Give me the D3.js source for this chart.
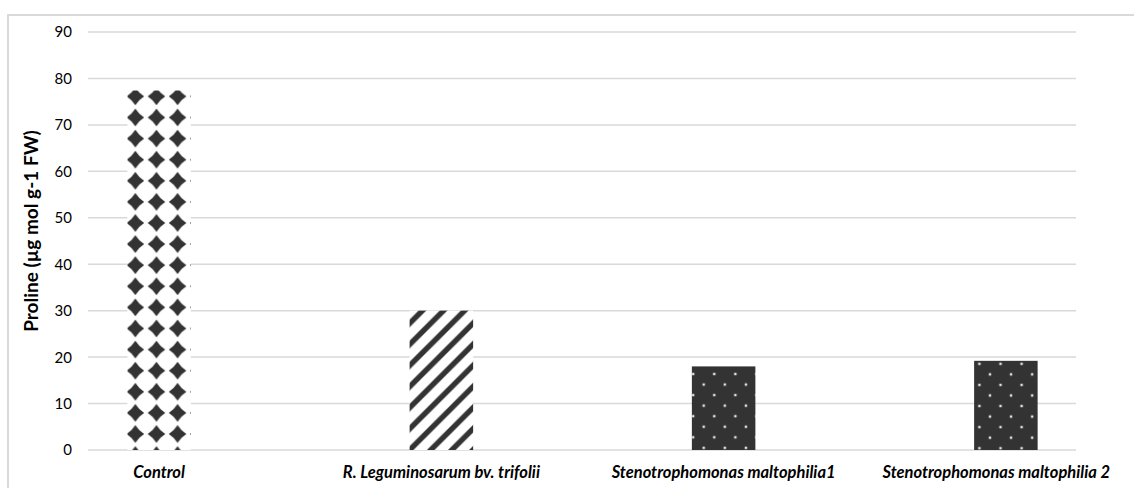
<!DOCTYPE html>
<html>
<head>
<meta charset="utf-8">
<script src="https://cdn.jsdelivr.net/npm/d3@7"></script>
<style>
  html, body { margin: 0; padding: 0; background: #fff; }
  svg { display: block; }
</style>
</head>
<body>
<svg id="chart" width="1134" height="488"></svg>
<script>
const categories = ["Control", "R. Leguminosarum bv. trifolii", "Stenotrophomonas maltophilia1", "Stenotrophomonas maltophilia 2"];
const values = [77.4, 30, 18, 19.2];
const yTicks = [0, 10, 20, 30, 40, 50, 60, 70, 80, 90];
const yTitle = "Proline (µg mol g-1 FW)";
const patterns = ["diamond", "stripe", "dots", "dots"];

const svg = d3.select("#chart");
const W = 1134, H = 488;
const dark = "#333333";
const grid = "#d9d9d9";
const font = "Lato, 'Open Sans', sans-serif";

// frame
svg.append("path").attr("d", `M8,${H} L8,15 L${W},15`).attr("fill", "none").attr("stroke", grid).attr("stroke-width", 2);

const x = d3.scaleBand().domain(categories).range([18, 1147]).padding(0);
const y = d3.scaleLinear().domain([0, 90]).range([450, 32]);
const barW = x.bandwidth() * 0.225;
const gridX0 = 88, gridX1 = 1076;

const defs = svg.append("defs");
const tile = 21.1;

categories.forEach((c, i) => {
  const bx = x(c) + x.bandwidth() / 2 - barW / 2;
  const by = y(values[i]);
  const type = patterns[i];
  const p = defs.append("pattern").attr("id", "pat" + i)
    .attr("patternUnits", "userSpaceOnUse")
    .attr("width", tile).attr("height", tile);
  if (type === "diamond") {
    p.attr("x", bx + 8 - tile / 2).attr("y", 450 - 16 - tile / 2);
    p.append("rect").attr("width", tile).attr("height", tile).attr("fill", "#fff");
    const cx = tile / 2, cy = tile / 2, r = 8.8, k = 3.4;
    p.append("path")
      .attr("d", `M${cx},${cy - r} Q${cx + k},${cy - k} ${cx + r},${cy} Q${cx + k},${cy + k} ${cx},${cy + r} Q${cx - k},${cy + k} ${cx - r},${cy} Q${cx - k},${cy - k} ${cx},${cy - r} Z`)
      .attr("fill", dark);
  } else if (type === "stripe") {
    p.attr("x", bx).attr("y", 450);
    p.append("rect").attr("width", tile).attr("height", tile).attr("fill", "#fff");
    const sw = 5.4;
    p.append("line").attr("x1", 0).attr("y1", tile).attr("x2", tile).attr("y2", 0).attr("stroke", dark).attr("stroke-width", sw);
    p.append("line").attr("x1", -tile / 2).attr("y1", tile / 2).attr("x2", tile / 2).attr("y2", -tile / 2).attr("stroke", dark).attr("stroke-width", sw);
    p.append("line").attr("x1", tile / 2).attr("y1", tile * 1.5).attr("x2", tile * 1.5).attr("y2", tile / 2).attr("stroke", dark).attr("stroke-width", sw);
  } else {
    const offX = i === 2 ? 1.3 : 5.3;
    const offY = i === 2 ? 7.6 : 3;
    p.attr("x", bx + offX).attr("y", by + offY);
    p.append("rect").attr("width", tile).attr("height", tile).attr("fill", dark);
    const ds = 2.4, dc = "#e4e4e4";
    [[0, 0], [tile, 0], [0, tile], [tile, tile], [tile / 2, tile / 2]].forEach(([px, py]) => {
      p.append("rect").attr("x", px - ds / 2).attr("y", py - ds / 2).attr("width", ds).attr("height", ds).attr("fill", dc);
    });
  }
});

// gridlines
svg.append("g").selectAll("line").data(yTicks).join("line")
  .attr("x1", gridX0).attr("x2", gridX1)
  .attr("y1", d => y(d)).attr("y2", d => y(d))
  .attr("stroke", grid).attr("stroke-width", 1.5);

// tick labels
svg.append("g").selectAll("text").data(yTicks).join("text")
  .attr("x", 72).attr("y", d => y(d)).attr("dy", "0.36em")
  .attr("text-anchor", "end")
  .attr("font-family", font)
  .attr("font-size", 15).attr("fill", "#000")
  .text(d => d);

// bars
svg.append("g").selectAll("rect").data(values).join("rect")
  .attr("x", (d, i) => x(categories[i]) + x.bandwidth() / 2 - barW / 2)
  .attr("y", d => y(d))
  .attr("width", barW)
  .attr("height", d => y(0) - y(d))
  .attr("fill", (d, i) => `url(#pat${i})`);

// category labels
const labels = svg.append("g").selectAll("text").data(categories).join("text")
  .attr("x", d => x(d) + x.bandwidth() / 2)
  .attr("y", 478)
  .attr("text-anchor", "middle")
  .attr("font-family", font)
  .attr("font-size", 16.5).attr("font-weight", "bold").attr("font-style", "italic")
  .attr("fill", "#000")
  .text(d => d);
labels.each(function () {
  const b = this.getBBox();
  const maxRight = 1110;
  if (b.x + b.width > maxRight) {
    d3.select(this).attr("x", +d3.select(this).attr("x") - (b.x + b.width - maxRight));
  }
});

// y title
svg.append("text")
  .attr("transform", "translate(38,231) rotate(-90)")
  .attr("text-anchor", "middle")
  .attr("font-family", font)
  .attr("font-size", 19).attr("font-weight", "bold").attr("fill", "#000")
  .text(yTitle);
</script>
</body>
</html>
